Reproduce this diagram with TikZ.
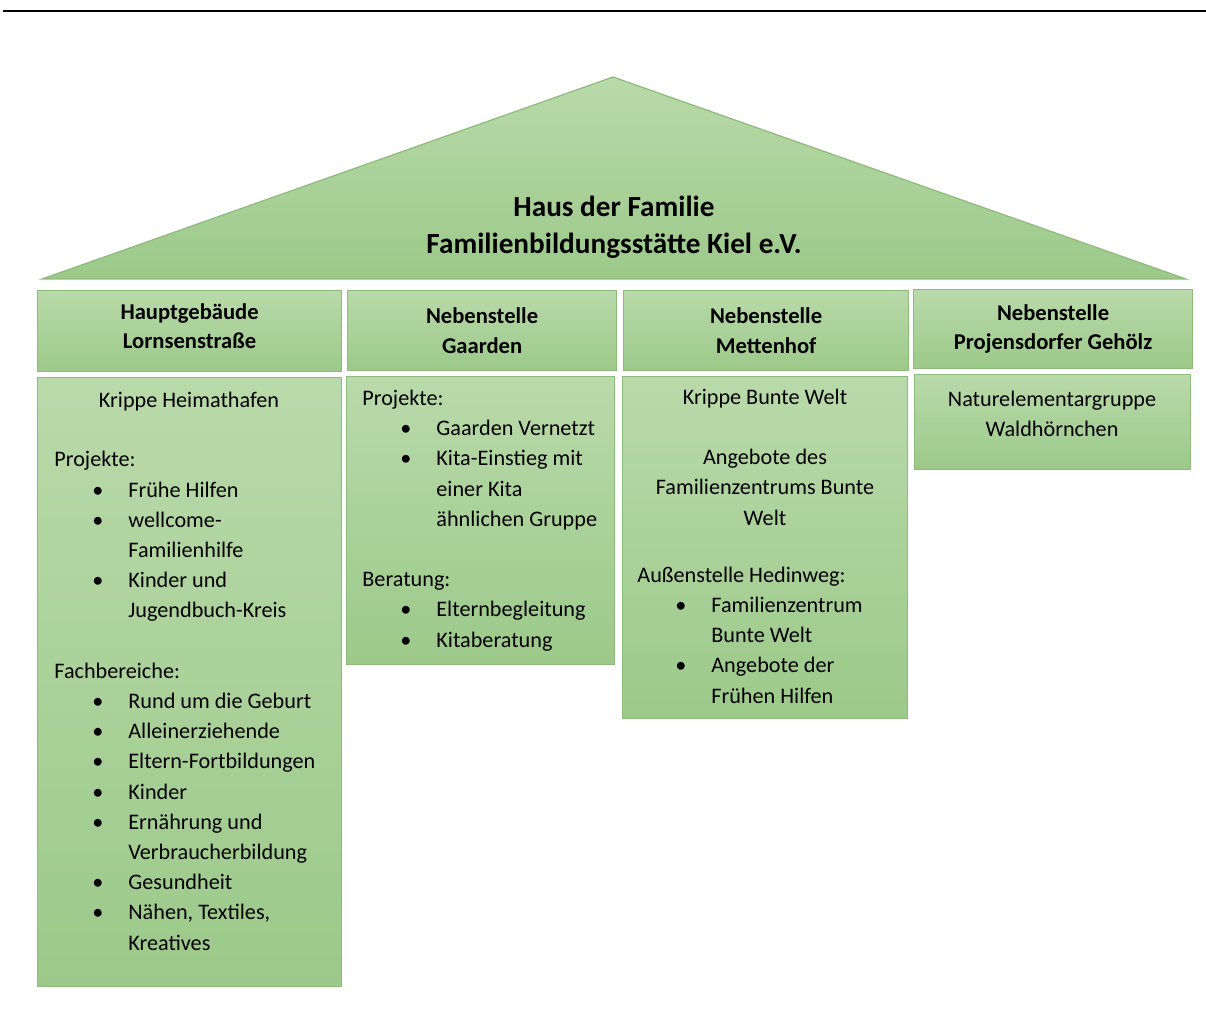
\documentclass[tikz,border=0pt]{standalone}
\usepackage{fontspec}
\setmainfont{Carlito}
\usepackage{tikz}

\definecolor{grtop}{HTML}{B9DAAA}
\definecolor{grbot}{HTML}{9CC98A}
\definecolor{grline}{HTML}{8DBB79}

\newcommand{\bu}{\hspace*{19pt}\makebox[18pt][l]{\textbullet}}
\newcommand{\ein}{\hspace*{37pt}}

\begin{document}
\begin{tikzpicture}[x=0.5pt,y=-0.5pt,
  box/.style={draw=grline, line width=0.6pt, top color=grtop, bottom color=grbot, inner sep=0pt},
  head/.style={box, align=center, font=\bfseries\fontsize{11.3}{14.8}\selectfont},
  txt/.style={inner sep=0pt, align=left, font=\fontsize{11.1}{15.1}\selectfont},
  ctxt/.style={txt, align=center}]
  \useasboundingbox (0,0) rectangle (1206,1032);

  \draw[line width=1.1pt] (3,11) -- (1206,11);

  % roof
  \draw[box] (613,77) -- (1186,279) -- (42,279) -- cycle;
  \node[align=center, font=\bfseries\fontsize{14.6}{18.5}\selectfont] (haus) at (614,227)
    {Haus der Familie\\Familienbildungsstätte Kiel e.V.};

  % heads
  \node[head, minimum width=152pt, minimum height=40.5pt, anchor=north west] (h1) at (37,290)
    {Hauptgebäude\\Lornsenstraße\\[-9.8pt]};
  \node[head, minimum width=134.5pt, minimum height=40pt, anchor=north west] (h2) at (347,290)
    {Nebenstelle\\Gaarden};
  \node[head, minimum width=142.5pt, minimum height=40pt, anchor=north west] (h3) at (623,290)
    {Nebenstelle\\Mettenhof};
  \node[head, minimum width=139.5pt, minimum height=39.5pt, anchor=north west] (h4) at (913,289)
    {Nebenstelle\\Projensdorfer Gehölz};

  % bodies
  \node[box, minimum width=152pt, minimum height=304.5pt, anchor=north west] (k1) at (37,377) {};
  \node[box, minimum width=134pt, minimum height=144pt, anchor=north west] (k2) at (346,376) {};
  \node[box, minimum width=142.5pt, minimum height=171pt, anchor=north west] (k3) at (622,376) {};
  \node[box, minimum width=138pt, minimum height=47.5pt, anchor=north west] (k4) at (914,374) {};

  % Lornsenstrasse
  \node[ctxt, anchor=base] (k1a) at (189,408) {Krippe Heimathafen};
  \node[txt, anchor=base west] (k1b) at (54,950)
    {Projekte:\\
     \bu Frühe Hilfen\\
     \bu wellcome-\\
     \ein Familienhilfe\\
     \bu Kinder und\\
     \ein Jugendbuch-Kreis\\
     \strut\\
     Fachbereiche:\\
     \bu Rund um die Geburt\\
     \bu Alleinerziehende\\
     \bu Eltern-Fortbildungen\\
     \bu Kinder\\
     \bu Ernährung und\\
     \ein Verbraucherbildung\\
     \bu Gesundheit\\
     \bu Nähen, Textiles,\\
     \ein Kreatives};

  % Gaarden
  \node[txt, anchor=base west] (k2a) at (362,647)
    {Projekte:\\
     \bu Gaarden Vernetzt\\
     \bu Kita-Einstieg mit\\
     \ein einer Kita\\
     \ein ähnlichen Gruppe\\
     \strut\\
     Beratung:\\
     \bu Elternbegleitung\\
     \bu Kitaberatung};

  % Mettenhof
  \node[ctxt, anchor=base] (k3a) at (765,525)
    {Krippe Bunte Welt\\[15.1pt]Angebote des\\Familienzentrums Bunte\\Welt};
  \node[txt, anchor=base west] (k3b) at (637,703)
    {Außenstelle Hedinweg:\\
     \bu Familienzentrum\\
     \ein Bunte Welt\\
     \bu Angebote der\\
     \ein Frühen Hilfen};

  % Projensdorfer Gehoelz
  \node[ctxt, anchor=base] (k4a) at (1052,437) {Naturelementargruppe\\Waldhörnchen};
\end{tikzpicture}
\end{document}
